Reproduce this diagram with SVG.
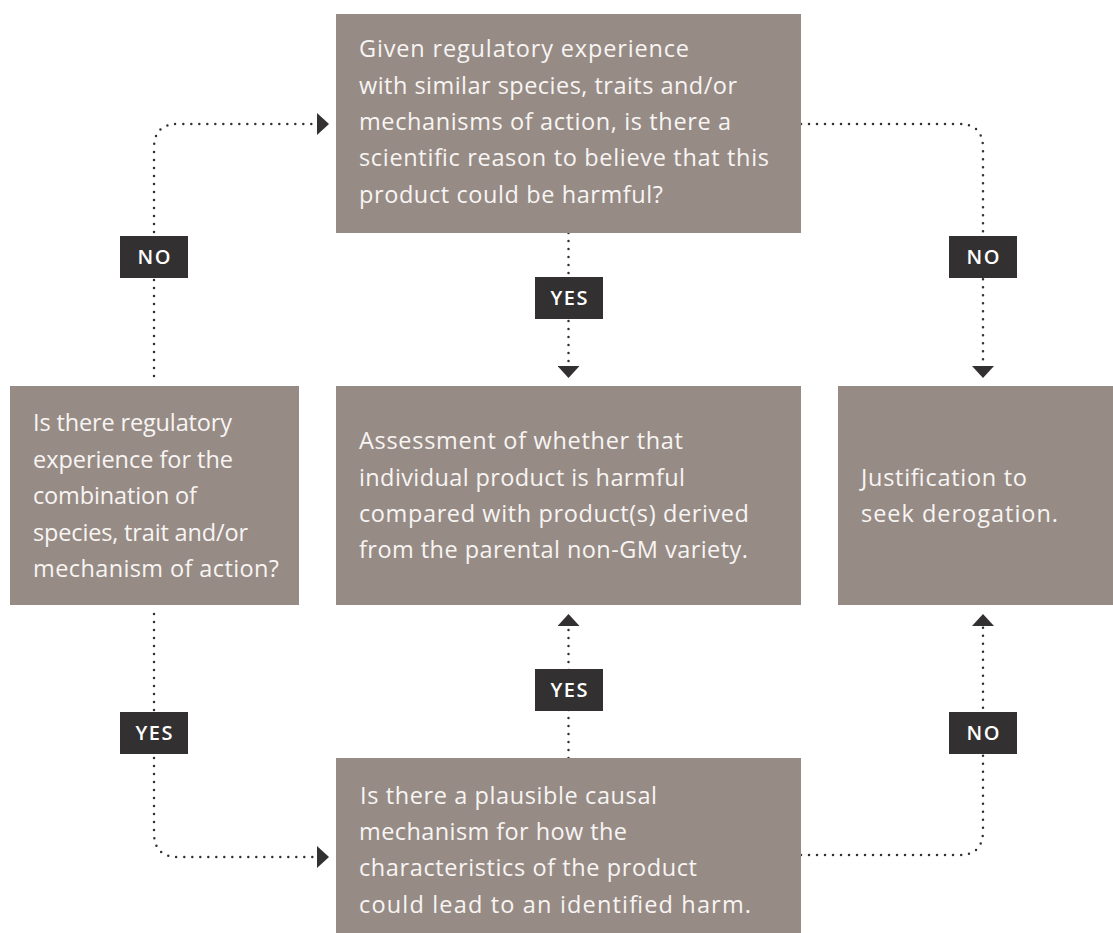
<svg xmlns="http://www.w3.org/2000/svg" width="1113" height="933" viewBox="0 0 1113 933">
<style>
.box{fill:#978b86}
.t{font-family:"Open Sans","Liberation Sans",sans-serif;font-size:23.5px;fill:#f7f5f3}
.lab{fill:#333031}
.lt{font-family:"Open Sans","Liberation Sans",sans-serif;font-size:20px;font-weight:600;fill:#ffffff;text-anchor:middle;letter-spacing:1.5px}
.con{fill:none;stroke:#333031;stroke-width:2.5;stroke-linecap:round;stroke-dasharray:0 8}
</style>
<defs>
<marker id="arr" viewBox="0 0 12 22" refX="0" refY="11" markerWidth="12" markerHeight="22" markerUnits="userSpaceOnUse" orient="auto">
<path d="M0,0 L12,11 L0,22 Z" fill="#333031"/>
</marker>
</defs>
<rect width="1113" height="933" fill="#ffffff"/>

<g id="connectors">
<path class="con" d="M154,376 L154,148 Q154,124 178,124 L317,124" marker-end="url(#arr)"/>
<path class="con" d="M801,124 L959,124 Q983,124 983,148 L983,366" marker-end="url(#arr)"/>
<path class="con" d="M568.5,233 L568.5,366" marker-end="url(#arr)"/>
<path class="con" d="M154,614 L154,833 Q154,857 178,857 L317,857" marker-end="url(#arr)"/>
<path class="con" d="M568.5,758 L568.5,626" marker-end="url(#arr)"/>
<path class="con" d="M801,855 L959,855 Q983,855 983,831 L983,626" marker-end="url(#arr)"/>
</g>

<g id="node-top">
<rect class="box" x="336" y="14" width="465" height="219"/>
<text class="t"><tspan x="359" y="57" textLength="330" lengthAdjust="spacing">Given regulatory experience</tspan><tspan x="359" y="94" textLength="378" lengthAdjust="spacing">with similar species, traits and/or</tspan><tspan x="359" y="130" textLength="372" lengthAdjust="spacing">mechanisms of action, is there a</tspan><tspan x="359" y="166" textLength="410" lengthAdjust="spacing">scientific reason to believe that this</tspan><tspan x="359" y="203" textLength="304" lengthAdjust="spacing">product could be harmful?</tspan></text>
</g>

<g id="node-left">
<rect class="box" x="10" y="386" width="289" height="219"/>
<text class="t"><tspan x="33" y="431" textLength="199" lengthAdjust="spacing">Is there regulatory</tspan><tspan x="33" y="468" textLength="200" lengthAdjust="spacing">experience for the</tspan><tspan x="33" y="504" textLength="164" lengthAdjust="spacing">combination of</tspan><tspan x="33" y="541" textLength="215" lengthAdjust="spacing">species, trait and/or</tspan><tspan x="33" y="577" textLength="246" lengthAdjust="spacing">mechanism of action?</tspan></text>
</g>

<g id="node-center">
<rect class="box" x="336" y="386" width="465" height="219"/>
<text class="t"><tspan x="359" y="449" textLength="324" lengthAdjust="spacing">Assessment of whether that</tspan><tspan x="359" y="486" textLength="326" lengthAdjust="spacing">individual product is harmful</tspan><tspan x="359" y="522" textLength="390" lengthAdjust="spacing">compared with product(s) derived</tspan><tspan x="359" y="558" textLength="389" lengthAdjust="spacing">from the parental non-GM variety.</tspan></text>
</g>

<g id="node-right">
<rect class="box" x="838" y="386" width="275" height="219"/>
<text class="t"><tspan x="861" y="486" textLength="166" lengthAdjust="spacing">Justification to</tspan><tspan x="861" y="522" textLength="197" lengthAdjust="spacing">seek derogation.</tspan></text>
</g>

<g id="node-bottom">
<rect class="box" x="336" y="758" width="465" height="175"/>
<text class="t"><tspan x="360" y="804" textLength="297" lengthAdjust="spacing">Is there a plausible causal</tspan><tspan x="359" y="840" textLength="268" lengthAdjust="spacing">mechanism for how the</tspan><tspan x="359" y="876" textLength="338" lengthAdjust="spacing">characteristics of the product</tspan><tspan x="359" y="913" textLength="392" lengthAdjust="spacing">could lead to an identified harm.</tspan></text>
</g>

<g id="label-no-left">
<rect class="lab" x="120" y="236" width="68" height="42"/>
<text class="lt" x="154.75" y="264">NO</text>
</g>
<g id="label-yes-top">
<rect class="lab" x="535" y="277" width="68" height="42"/>
<text class="lt" x="569.75" y="305">YES</text>
</g>
<g id="label-no-right">
<rect class="lab" x="949" y="236" width="68" height="42"/>
<text class="lt" x="983.75" y="264">NO</text>
</g>
<g id="label-yes-left">
<rect class="lab" x="120" y="712" width="68" height="42"/>
<text class="lt" x="154.75" y="740">YES</text>
</g>
<g id="label-yes-bottom">
<rect class="lab" x="535" y="669" width="68" height="42"/>
<text class="lt" x="569.75" y="697">YES</text>
</g>
<g id="label-no-bottom">
<rect class="lab" x="949" y="712" width="68" height="42"/>
<text class="lt" x="983.75" y="740">NO</text>
</g>
</svg>
